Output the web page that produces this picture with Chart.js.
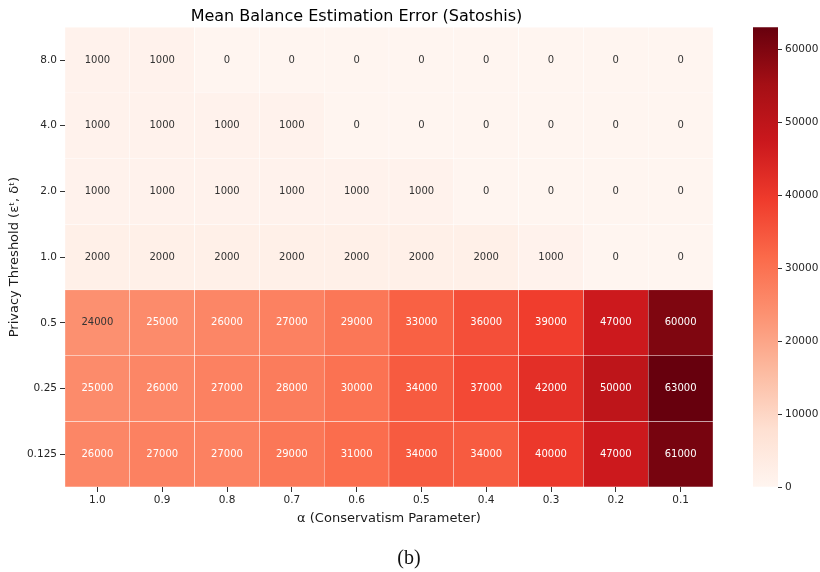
<!DOCTYPE html>
<html>
<head>
<meta charset="utf-8">
<script src="https://cdn.jsdelivr.net/npm/chart.js@4"></script>
<style>
  html, body { margin: 0; padding: 0; background: #fff; }
  #wrap { position: relative; width: 820px; height: 572px; }
  #heat { position: absolute; left: 0; top: 0; }
  #cbar { position: absolute; left: 740px; top: 0; }
  #caption { position: absolute; left: 0; width: 818px; top: 547px; line-height: 20px; text-align: center;
             font-family: "Liberation Serif", serif; font-size: 20px; color: #111; }
</style>
</head>
<body>
<div id="wrap">
  <canvas id="heat" width="820" height="572"></canvas>
  <canvas id="cbar" width="80" height="572"></canvas>
  <div id="caption">(b)</div>
</div>
<script>
// alpha on x, privacy threshold on y (top to bottom)
const alphas = ['1.0', '0.9', '0.8', '0.7', '0.6', '0.5', '0.4', '0.3', '0.2', '0.1'];
const thresholds = ['8.0', '4.0', '2.0', '1.0', '0.5', '0.25', '0.125'];

const err_8_0   = [1000, 1000, 0, 0, 0, 0, 0, 0, 0, 0];
const err_4_0   = [1000, 1000, 1000, 1000, 0, 0, 0, 0, 0, 0];
const err_2_0   = [1000, 1000, 1000, 1000, 1000, 1000, 0, 0, 0, 0];
const err_1_0   = [2000, 2000, 2000, 2000, 2000, 2000, 2000, 1000, 0, 0];
const err_0_5   = [24000, 25000, 26000, 27000, 29000, 33000, 36000, 39000, 47000, 60000];
const err_0_25  = [25000, 26000, 27000, 28000, 30000, 34000, 37000, 42000, 50000, 63000];
const err_0_125 = [26000, 27000, 27000, 29000, 31000, 34000, 34000, 40000, 47000, 61000];

const cbTicks = [0, 10000, 20000, 30000, 40000, 50000, 60000];
const vmin = 0;
const vmax = 63000;

const rows = [err_8_0, err_4_0, err_2_0, err_1_0, err_0_5, err_0_25, err_0_125];

// matplotlib "Reds"
const redsStops = [
  [255, 245, 240], [254, 224, 210], [252, 187, 161], [252, 146, 114], [251, 106, 74],
  [239, 59, 44], [203, 24, 29], [165, 15, 21], [103, 0, 13]
];

function redsRgb(t) {
  t = Math.max(0, Math.min(1, t));
  const p = t * (redsStops.length - 1);
  const k = Math.min(redsStops.length - 2, Math.floor(p));
  const f = p - k;
  const a = redsStops[k], b = redsStops[k + 1];
  return [0, 1, 2].map(i => a[i] + (b[i] - a[i]) * f);
}

function toCss(c) {
  return 'rgb(' + c.map(Math.round).join(',') + ')';
}

// seaborn style annotation colour choice
function textColor(t) {
  const lin = redsRgb(t).map(v => {
    v = v / 255;
    return v <= 0.03928 ? v / 12.92 : Math.pow((v + 0.055) / 1.055, 2.4);
  });
  const lum = 0.2126 * lin[0] + 0.7152 * lin[1] + 0.0722 * lin[2];
  return lum > 0.408 ? '#333333' : '#ffffff';
}

const fam = '"DejaVu Sans", sans-serif';
const tickCol = '#262626';

const cellText = {
  id: 'cellText',
  afterDatasetsDraw(chart) {
    const c = chart.ctx;
    c.save();
    c.font = '10px ' + fam;
    c.textAlign = 'center';
    c.textBaseline = 'middle';
    chart.data.datasets.forEach((ds, i) => {
      chart.getDatasetMeta(i).data.forEach((bar, j) => {
        const v = ds.values[j];
        c.fillStyle = textColor((v - vmin) / (vmax - vmin));
        c.fillText(String(v), bar.x, (bar.y + bar.base) / 2);
      });
    });
    c.restore();
  }
};

new Chart(document.getElementById('heat'), {
  type: 'bar',
  data: {
    labels: alphas,
    datasets: rows.map((vals, i) => ({
      label: thresholds[i],
      data: vals.map(() => [i, i + 1]),
      values: vals,
      backgroundColor: vals.map(v => toCss(redsRgb((v - vmin) / (vmax - vmin)))),
      borderColor: '#ffffff',
      borderWidth: 0.5,
      borderSkipped: false,
      barPercentage: 1,
      categoryPercentage: 1,
      grouped: false
    }))
  },
  options: {
    responsive: false,
    animation: false,
    devicePixelRatio: 1,
    layout: { padding: { left: 0, right: 107, top: 0, bottom: 0 } },
    plugins: {
      legend: { display: false },
      tooltip: { enabled: false },
      title: {
        display: true,
        text: 'Mean Balance Estimation Error (Satoshis)',
        color: '#000',
        font: { family: fam, size: 16, weight: 'normal' },
        padding: { top: 7, bottom: 1 }
      }
    },
    scales: {
      x: {
        type: 'category',
        grid: { drawOnChartArea: false, drawTicks: true, tickLength: 5, color: '#333', offset: false },
        border: { display: false },
        ticks: { color: tickCol, font: { family: fam, size: 10.5 }, padding: 2, maxRotation: 0 },
        title: {
          display: true,
          text: 'α (Conservatism Parameter)',
          color: '#1a1a1a',
          font: { family: fam, size: 13 },
          padding: { top: 0, bottom: 46 }
        },
        afterFit: s => { s.height = 85; }
      },
      y: {
        type: 'linear',
        min: 0,
        max: rows.length,
        reverse: true,
        afterBuildTicks: s => { s.ticks = thresholds.map((t, i) => ({ value: i + 0.5 })); },
        grid: { drawOnChartArea: false, drawTicks: true, tickLength: 5, color: '#333' },
        border: { display: false },
        ticks: {
          color: tickCol,
          font: { family: fam, size: 10.5 },
          padding: 3,
          callback: v => thresholds[Math.floor(v)]
        },
        title: {
          display: true,
          text: 'Privacy Threshold (εᵗ, δᵗ)',
          color: '#1a1a1a',
          font: { family: fam, size: 13 },
          padding: { top: 7, bottom: 0 }
        },
        afterFit: s => { s.width = 65; }
      }
    }
  },
  plugins: [cellText]
});

// colour bar
new Chart(document.getElementById('cbar'), {
  type: 'bar',
  data: {
    labels: [''],
    datasets: [{
      data: [[vmin, vmax]],
      backgroundColor: ctx => {
        const area = ctx.chart.chartArea;
        if (!area) return toCss(redsRgb(0.5));
        const g = ctx.chart.ctx.createLinearGradient(0, area.bottom, 0, area.top);
        redsStops.forEach((s, i) => g.addColorStop(i / (redsStops.length - 1), toCss(s)));
        return g;
      },
      borderWidth: 0,
      barPercentage: 1,
      categoryPercentage: 1
    }]
  },
  options: {
    responsive: false,
    animation: false,
    devicePixelRatio: 1,
    layout: { padding: { left: 13, right: 0, top: 27.2, bottom: 85 } },
    plugins: { legend: { display: false }, tooltip: { enabled: false } },
    scales: {
      x: { display: false },
      y: {
        position: 'right',
        min: vmin,
        max: vmax,
        afterBuildTicks: s => { s.ticks = cbTicks.map(v => ({ value: v })); },
        grid: { drawOnChartArea: false, drawTicks: true, tickLength: 4, color: '#333' },
        border: { display: false },
        ticks: { color: tickCol, font: { family: fam, size: 10.5 }, padding: 3, callback: v => String(v) },
        afterFit: s => { s.width = 42; }
      }
    }
  }
});
</script>
</body>
</html>
